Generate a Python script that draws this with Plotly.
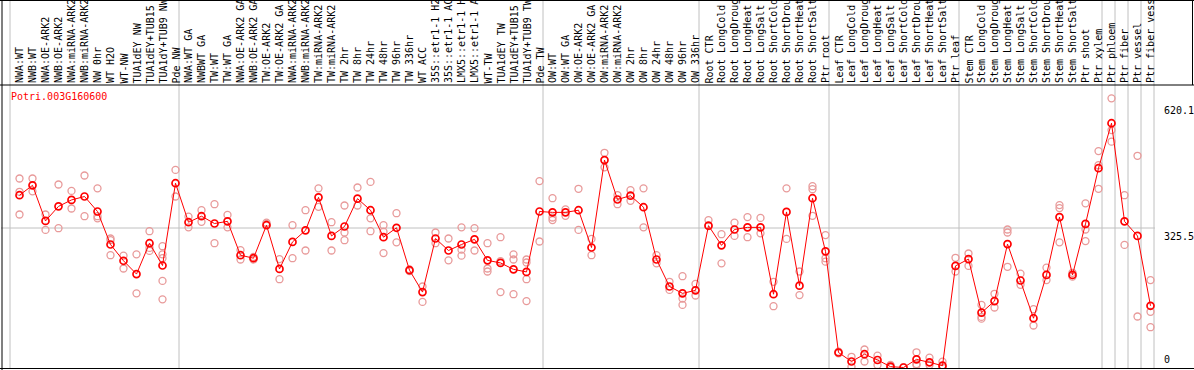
import plotly.graph_objects as go

title_text = "Potri.003G160600"

labels = [
    "NWA:WT", "NWB:WT", "NWA:OE-ARK2", "NWB:OE-ARK2", "NWA:miRNA-ARK2", "NWB:miRNA-ARK2",
    "NW 0hr", "WT H2O", "WT-NW", "TUA1dEY NW", "TUA1dEY+TUB15 NW", "TUA1dY+TUB9 NW", "Pde NW",
    "NWA:WT GA", "NWBWT GA", "TW:WT", "TW:WT GA", "NWA:OE-ARK2 GA", "NWB:OE-ARK2 GA",
    "TW:OE-ARK2", "TW:OE-ARK2 GA", "NWA:miRNA-ARK2", "NWB:miRNA-ARK2", "TW:miRNA-ARK2",
    "TW:miRNA-ARK2", "TW 2hr", "TW 8hr", "TW 24hr", "TW 48hr", "TW 96hr", "TW 336hr",
    "WT ACC", "35S::etr1-1 H2O", "35S::etr1-1 ACC", "LMX5::etr1-1 H2O", "LMX5::etr1-1 ACC",
    "WT-TW", "TUA1dEY TW", "TUA1dEY+TUB15 TW", "TUA1dY+TUB9 TW", "Pde TW",
    "OW:WT", "OW:WT GA", "OW:OE-ARK2", "OW:OE-ARK2 GA", "OW:miRNA-ARK2", "OW:miRNA-ARK2",
    "OW 2hr", "OW 8hr", "OW 24hr", "OW 48hr", "OW 96hr", "OW 336hr",
    "Root CTR", "Root LongCold", "Root LongDrought", "Root LongHeat", "Root LongSalt",
    "Root ShortCold", "Root ShortDrought", "Root ShortHeat", "Root ShortSalt", "Ptr root",
    "Leaf CTR", "Leaf LongCold", "Leaf LongDrought", "Leaf LongHeat", "Leaf LongSalt",
    "Leaf ShortCold", "Leaf ShortDrought", "Leaf ShortHeat", "Leaf ShortSalt", "Ptr leaf",
    "Stem CTR", "Stem LongCold", "Stem LongDrought", "Stem LongHeat", "Stem LongSalt",
    "Stem ShortCold", "Stem ShortDrought", "Stem ShortHeat", "Stem ShortSalt", "Ptr shoot",
    "Ptr xylem", "Ptr phloem", "Ptr fiber", "Ptr vessel", "Ptr fiber vessel",
]

means = [
    402, 425, 342, 376, 391, 399, 364, 287, 249, 218, 290, 238, 430,
    339, 353, 336, 341, 262, 255, 332, 230, 293, 320, 397, 307, 329, 394, 367, 304, 326, 227,
    176, 301, 273, 287, 299, 250, 244, 229, 223, 364,
    362, 362, 367, 280, 484, 392, 401, 374, 252, 189, 173, 180,
    331, 285, 322, 327, 327, 171, 363, 191, 395, 271,
    35, 14, 31, 17.5, 2, 0, 19, 12, 4.3, 237,
    253, 128, 155, 288, 203, 115, 216, 351, 216, 335,
    465, 570, 341, 307, 144,
]

replicates = [
    [441, 410, 357], [441, 411], [357, 321], [427, 325], [412, 371], [448, 353],
    [418, 353, 348], [301, 297, 262], [261, 231], [264, 173], [318, 272, 279],
    [283, 264, 255, 202, 159], [461, 399],
    [352, 327], [367, 340], [381, 290], [356, 327], [274, 252], [258, 252], [338, 335],
    [253, 206], [332, 255], [367, 273], [418, 375], [339, 273], [378, 315, 297], [420, 378],
    [433, 348, 318], [332, 317, 267], [360, 292], [229, 225],
    [189, 153], [315, 290], [301, 250], [327, 275, 261], [325, 273], [290, 231, 224],
    [304, 248, 176], [264, 252, 171], [252, 245, 206, 155], [435, 294],
    [395, 350, 344], [369, 354], [417, 321], [300, 262], [501, 467], [402, 381],
    [414, 389], [418, 327], [262, 243], [200, 181], [213, 161, 146], [195, 168],
    [344, 330], [311, 243], [338, 307], [351, 304], [349, 313], [200, 143], [418, 300],
    [224, 169], [423, 416, 354], [309, 255, 247],
    [37, 33], [25, 2], [42, 14], [27.6, 5.8], [5.8, 0], [1], [35.5, 5.8, 8], [23, 5.8],
    [13.6, 0], [256, 224],
    [266, 237], [146, 114, 118], [172, 140], [322, 315, 235], [219, 193], [136, 98],
    [233, 204], [379, 372, 292], [221, 212], [383, 322, 295],
    [505, 472, 417], [628, 554, 527], [402, 286], [494, 119], [204, 130, 94],
]

group_starts = [0, 13, 41, 53, 63, 73, 84, 85, 86, 87, 88]
ytick_vals = [620.1, 325.5, 0]
ytick_text = ["620.1", "325.5", "0"]

FONT = "DejaVu Sans Mono"
W, H = 1194, 370
L, R, T, B = 1, 39, 85, 2
PW, PH = W - L - R, H - T - B


def px_x(px):
    return (px - L) / PW


def px_y(py):
    return (H - B - py) / PH


xs = list(range(len(means)))
rep_x, rep_y = [], []
for i, reps in enumerate(replicates):
    for v in reps:
        rep_x.append(i)
        rep_y.append(v)

fig = go.Figure()
fig.add_trace(go.Scatter(
    x=rep_x, y=rep_y, mode="markers",
    marker=dict(symbol="circle-open", size=7, color="#e89a9a", line=dict(width=1.3, color="#e89a9a")),
    hoverinfo="skip", showlegend=False,
))
fig.add_trace(go.Scatter(
    x=xs, y=means, mode="lines+markers",
    line=dict(color="#ff0000", width=1),
    marker=dict(symbol="circle-open", size=7, color="#ff0000", line=dict(width=1.7, color="#ff0000")),
    showlegend=False,
))

shapes = []
off = 0.7308
for k in group_starts:
    shapes.append(dict(type="line", xref="x", yref="paper", x0=k - off, x1=k - off,
                       y0=0, y1=px_y(0), line=dict(color="#c0c0c0", width=1), layer="below"))
shapes.append(dict(type="line", xref="paper", yref="y", x0=0, x1=1, y0=325.5, y1=325.5,
                   line=dict(color="#c0c0c0", width=1), layer="below"))
# black frame lines
shapes.append(dict(type="line", xref="paper", yref="paper", x0=px_x(0), x1=px_x(W),
                   y0=px_y(85), y1=px_y(85), line=dict(color="black", width=1)))
shapes.append(dict(type="line", xref="paper", yref="paper", x0=px_x(0), x1=px_x(W),
                   y0=px_y(0.5), y1=px_y(0.5), line=dict(color="black", width=1)))
shapes.append(dict(type="line", xref="paper", yref="paper", x0=px_x(0), x1=px_x(W),
                   y0=px_y(368.5), y1=px_y(368.5), line=dict(color="black", width=1)))
shapes.append(dict(type="line", xref="paper", yref="paper", x0=px_x(2), x1=px_x(2),
                   y0=px_y(370), y1=px_y(0), line=dict(color="black", width=1)))
shapes.append(dict(type="line", xref="paper", yref="paper", x0=px_x(1192.5), x1=px_x(1192.5),
                   y0=px_y(85), y1=px_y(0), line=dict(color="black", width=1)))

annotations = []
for i, lab in enumerate(labels):
    annotations.append(dict(x=i, xref="x", y=px_y(84.5), yref="paper", text=lab,
                            textangle=-90, xanchor="center", yanchor="bottom", showarrow=False,
                            font=dict(family=FONT, size=10, color="black"), borderpad=0))
annotations.append(dict(x=px_x(9), xref="paper", y=px_y(97), yref="paper", text=title_text,
                        xanchor="left", yanchor="middle", showarrow=False,
                        font=dict(family=FONT, size=10, color="#ff0000")))
for v, t in zip(ytick_vals, ytick_text):
    annotations.append(dict(x=px_x(1162), xref="paper", y=v, yref="y", text=t,
                            xanchor="left", yanchor="bottom" if v == 0 else "top",
                            yshift=1 if v == 0 else -1, showarrow=False,
                            font=dict(family=FONT, size=10, color="black")))

fig.update_layout(
    width=W, height=H,
    margin=dict(l=L, r=R, t=T, b=B, pad=0),
    paper_bgcolor="white", plot_bgcolor="white",
    xaxis=dict(range=[(L - 19.5) / 13, (L + PW - 19.5) / 13], showgrid=False, zeroline=False,
               showticklabels=False, ticks="", showline=False, fixedrange=True),
    yaxis=dict(range=[(367.5 - (T + PH)) * 325.5 / 139.5, (367.5 - T) * 325.5 / 139.5],
               showgrid=False, zeroline=False, showticklabels=False, ticks="", showline=False,
               fixedrange=True),
    shapes=shapes, annotations=annotations,
)

fig.write_html(
    "out.html",
    config={"displayModeBar": False},
    post_script="document.body.style.margin='0px';document.body.style.overflow='hidden';",
)
